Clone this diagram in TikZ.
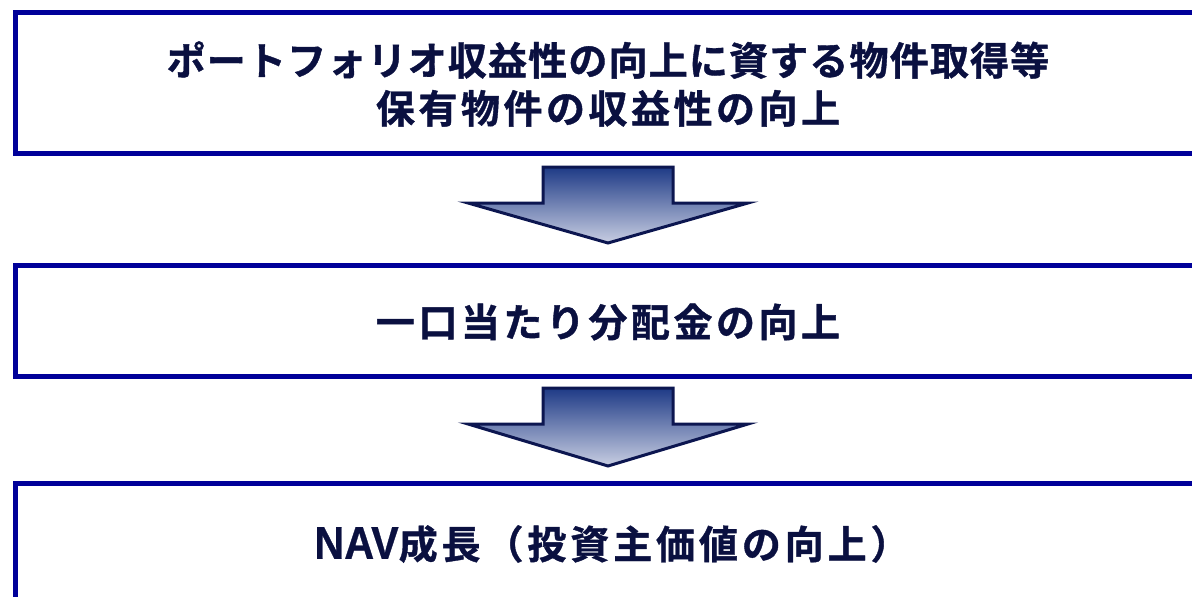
\documentclass[tikz,border=0pt]{standalone}
\usepackage{fontspec}
\setmainfont{Noto Sans CJK JP}[BoldFont={* Bold}]
\newfontfamily\jpb{Noto Sans CJK JP Bold}[FakeBold=1]
\newfontfamily\latb{Liberation Sans Bold}[FakeStretch=0.9,FakeBold=0.6]
\definecolor{boxblue}{HTML}{000099}
\definecolor{txtnavy}{HTML}{0A1040}
\definecolor{arrline}{HTML}{0C1650}
\definecolor{arrtop}{HTML}{1E3A86}
\definecolor{arrbot}{HTML}{C8CEE2}
\tikzset{
  box/.style={draw=boxblue, line width=5pt, rectangle, inner sep=0pt, anchor=north west},
  label/.style={text=txtnavy, font=\jpb\fontsize{39}{48}\selectfont, align=center, inner sep=0pt},
  downarrow/.style={draw=arrline, line width=3pt, line join=miter, top color=arrtop, bottom color=arrbot}
}
\begin{document}
\begin{tikzpicture}[x=1pt,y=-1pt]
\useasboundingbox (0,0) rectangle (1192,597);
\clip (0,0) rectangle (1192,597);
\node[box, minimum width=1200pt, minimum height=141pt] (b1) at (13,10) {};
\node[box, minimum width=1200pt, minimum height=111pt] (b2) at (13,263) {};
\node[box, minimum width=1200pt, minimum height=160pt] (b3) at (13,481) {};
\node[label] (t1) at (608,84) {\addfontfeature{LetterSpace=3}ポートフォリオ収益性の向上に資する物件取得等\\\addfontfeature{LetterSpace=9}保有物件の収益性の向上};
\node[label] (t2) at (608,322) {\addfontfeature{LetterSpace=9}一口当たり分配金の向上};
\node[label] (t3) at (612,544) {{\latb\fontsize{46}{48}\selectfont NAV}\addfontfeature{LetterSpace=10}成長（投資主価値の向上）};
\draw[downarrow] (543,167) -- (673,167) -- (673,203) -- (748,203) -- (608,243) -- (468,203) -- (543,203) -- cycle;
\draw[downarrow] (543,388) -- (673,388) -- (673,424) -- (748,424) -- (608,466) -- (468,424) -- (543,424) -- cycle;
\end{tikzpicture}
\end{document}
